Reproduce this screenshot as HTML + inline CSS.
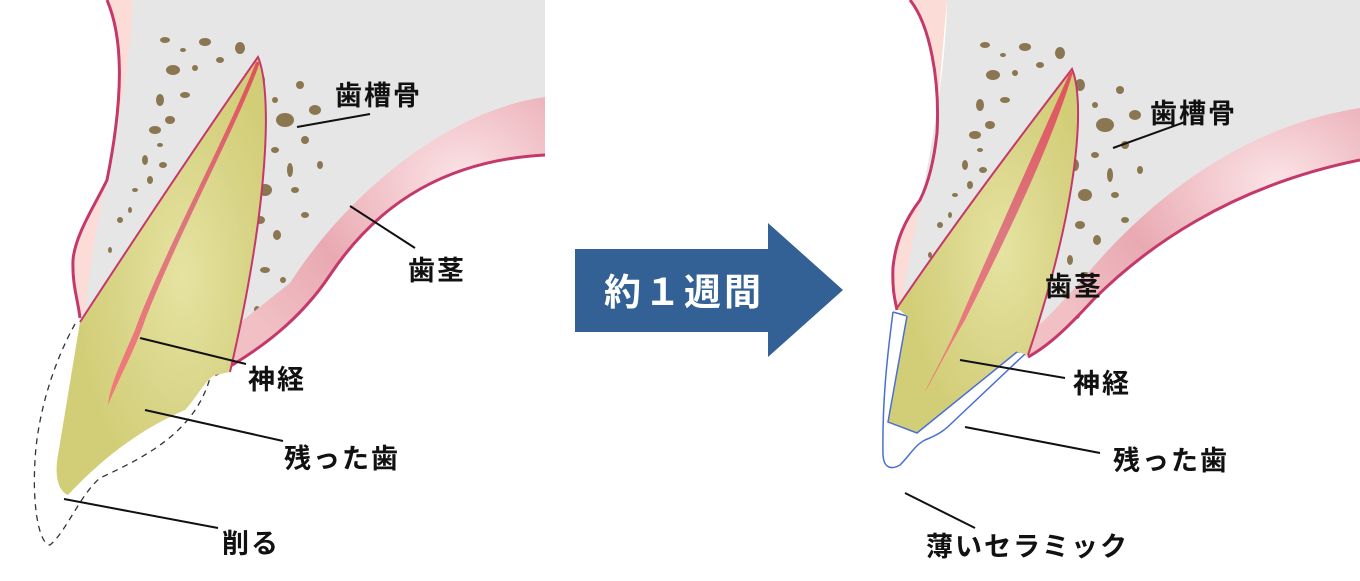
<!DOCTYPE html>
<html><head><meta charset="utf-8"><style>
html,body{margin:0;padding:0;background:#fff;}
svg{display:block;}
text{font-family:"Liberation Sans","Noto Sans CJK JP",sans-serif;font-weight:bold;fill:#111;font-size:27px;letter-spacing:2px;}
</style></head><body>
<svg width="1360" height="581" viewBox="0 0 1360 581" xmlns="http://www.w3.org/2000/svg">
<defs>
<radialGradient id="gum" cx="0.75" cy="0.3" r="0.8">
<stop offset="0" stop-color="#fbe4e6"/><stop offset="0.6" stop-color="#e9a9b2"/><stop offset="1" stop-color="#f0c0c4"/>
</radialGradient>
<radialGradient id="tooth" cx="0.6" cy="0.5" r="0.5">
<stop offset="0" stop-color="#e6e3a2"/><stop offset="0.6" stop-color="#d9d588"/><stop offset="1" stop-color="#d2ce78"/>
</radialGradient>
<linearGradient id="nerve" x1="0" y1="0" x2="0" y2="1">
<stop offset="0" stop-color="#e0505a"/><stop offset="0.5" stop-color="#dc7880"/><stop offset="1" stop-color="#f47878"/>
</linearGradient>
<g id="spots" fill="#8a7650">
<ellipse cx="0" cy="0" rx="5" ry="3"/><ellipse cx="18" cy="10" rx="3" ry="2"/><ellipse cx="40" cy="2" rx="6" ry="4"/>
<ellipse cx="8" cy="30" rx="7" ry="5"/><ellipse cx="30" cy="28" rx="3" ry="3"/><ellipse cx="55" cy="20" rx="4" ry="3"/>
<ellipse cx="-5" cy="60" rx="4" ry="6"/><ellipse cx="20" cy="55" rx="5" ry="3"/><ellipse cx="-10" cy="90" rx="6" ry="4"/>
<ellipse cx="5" cy="80" rx="5" ry="4"/><ellipse cx="-2" cy="125" rx="4" ry="3"/><ellipse cx="-15" cy="140" rx="3" ry="4"/>
<ellipse cx="-20" cy="120" rx="3" ry="5"/><ellipse cx="-30" cy="150" rx="3" ry="2"/><ellipse cx="-45" cy="180" rx="3" ry="3"/>
<ellipse cx="-55" cy="210" rx="2" ry="3"/><ellipse cx="-5" cy="105" rx="3" ry="2"/><ellipse cx="-35" cy="170" rx="2" ry="3"/>
<ellipse cx="75" cy="8" rx="5" ry="6"/><ellipse cx="95" cy="40" rx="5" ry="6"/><ellipse cx="120" cy="80" rx="9" ry="7"/>
<ellipse cx="140" cy="100" rx="4" ry="4"/><ellipse cx="110" cy="110" rx="4" ry="3"/><ellipse cx="125" cy="130" rx="3" ry="7"/>
<ellipse cx="100" cy="150" rx="7" ry="6"/><ellipse cx="130" cy="150" rx="4" ry="3"/><ellipse cx="95" cy="180" rx="5" ry="4"/>
<ellipse cx="112" cy="195" rx="4" ry="5"/><ellipse cx="85" cy="215" rx="3" ry="5"/><ellipse cx="100" cy="230" rx="5" ry="3"/>
<ellipse cx="80" cy="250" rx="3" ry="3"/><ellipse cx="150" cy="70" rx="6" ry="5"/><ellipse cx="155" cy="125" rx="3" ry="4"/>
<ellipse cx="135" cy="45" rx="4" ry="4"/><ellipse cx="110" cy="60" rx="3" ry="3"/><ellipse cx="90" cy="120" rx="4" ry="6"/>
<ellipse cx="140" cy="175" rx="4" ry="3"/><ellipse cx="92" cy="270" rx="3" ry="4"/><ellipse cx="118" cy="240" rx="3" ry="3"/>
</g>
</defs>

<!-- LEFT DIAGRAM -->
<path d="M107,0 C122,35 125,90 107,180 C95,205 75,235 73,260 C72,285 78,300 80,315 L120,320 L133,0 Z" fill="#fbdcd6"/>
<path d="M133,0 L545,0 L545,155 C450,160 380,200 330,275 C300,320 260,350 215,375 L86,310 C95,200 130,100 133,0 Z" fill="#e6e6e6"/>
<path d="M107,0 C122,35 125,90 107,180 C95,205 75,235 73,260 C72,285 78,300 80,318" fill="none" stroke="#c4386a" stroke-width="3"/>
<use href="#spots" transform="translate(165,40)"/>
<path d="M545,97 C450,110 350,190 290,283 L228,332 L215,375 C260,350 300,320 330,275 C380,200 450,160 545,155 Z" fill="url(#gum)"/>
<path d="M545,155 C450,160 380,200 330,275 C300,320 260,350 215,375" fill="none" stroke="#c4386a" stroke-width="3"/>
<!-- dashed cut -->
<path d="M75,324 C55,360 38,410 35,460 C32,510 40,545 50,545 C66,532 80,495 100,478 C150,455 195,430 210,378" fill="none" stroke="#333" stroke-width="1.3" stroke-dasharray="6,5"/>
<!-- tooth -->
<path d="M80,322 C140,230 200,140 258,57 C272,90 270,200 230,372 L215,375 C205,380 195,400 185,410 C150,425 110,450 68,495 C56,490 55,470 58,455 Z" fill="url(#tooth)"/>
<path d="M80,322 C140,230 200,140 258,57 C272,90 270,200 230,372" fill="none" stroke="#c4386a" stroke-width="2"/>
<path d="M256,62 C230,130 160,260 135,330 C120,365 110,385 108,405 C118,380 135,350 145,320 C180,230 240,120 260,62 Z" fill="url(#nerve)"/>

<line x1="297" y1="127" x2="370" y2="114" stroke="#111" stroke-width="2"/>
<line x1="350" y1="206" x2="415" y2="248" stroke="#111" stroke-width="2"/>
<line x1="140" y1="338" x2="246" y2="364" stroke="#111" stroke-width="2"/>
<line x1="145" y1="410" x2="283" y2="441" stroke="#111" stroke-width="2"/>
<line x1="64" y1="499" x2="218" y2="528" stroke="#111" stroke-width="2"/>
<text x="335" y="105">歯槽骨</text>
<text x="408" y="280">歯茎</text>
<text x="248" y="389">神経</text>
<text x="284" y="468">残った歯</text>
<text x="222" y="553">削る</text>

<!-- ARROW -->
<path d="M575,249 L768,249 L768,223 L843,290 L768,357 L768,332 L575,332 Z" fill="#336195"/>
<text x="604" y="305" style="fill:#fff;font-size:37px;letter-spacing:3px">約１週間</text>

<!-- RIGHT DIAGRAM -->
<path d="M910,0 C930,25 940,80 937,133 C933,170 925,190 920,200 C905,220 896,240 893,267 C892,290 895,300 897,310 L920,310 L947,0 Z" fill="#fbdcd6"/>
<path d="M947,0 L1360,0 L1360,160 C1227,187 1143,250 1093,300 C1070,325 1050,345 1028,357 L900,310 C920,200 945,100 947,0 Z" fill="#e6e6e6"/>
<path d="M910,0 C930,25 940,80 937,133 C933,170 925,190 920,200 C905,220 896,240 893,267 C892,290 895,300 897,310" fill="none" stroke="#c4386a" stroke-width="3"/>
<use href="#spots" transform="translate(985,45)"/>
<path d="M1360,108 C1250,125 1160,190 1093,267 C1065,300 1045,320 1037,327 L1028,357 C1050,345 1070,325 1093,300 C1143,250 1227,187 1360,160 Z" fill="url(#gum)"/>
<path d="M1360,160 C1227,187 1143,250 1093,300 C1070,325 1050,345 1028,357" fill="none" stroke="#c4386a" stroke-width="3"/>
<!-- ceramic -->
<path d="M893,312 L907,316 L888,422 L917,433 L1017,352 L1027,352 L955,420 C945,430 940,434 925,440 C915,445 910,455 900,465 C893,469 884,470 883,455 C882,400 888,350 893,312 Z" fill="#fff"/>
<path d="M893,312 C888,350 882,400 883,455 C884,470 893,469 900,465 C910,455 915,445 925,440 C940,434 945,430 955,420 L1027,352 L1017,352" fill="none" stroke="#4a6fd0" stroke-width="1.5"/>
<path d="M893,312 L907,316" fill="none" stroke="#4a6fd0" stroke-width="1.5"/>
<!-- tooth -->
<path d="M897,308 C950,230 1010,150 1072,69 C1085,100 1080,200 1028,355 L1017,352 L917,433 L888,422 L907,316 Z" fill="url(#tooth)"/>
<path d="M897,308 C950,230 1010,150 1072,69 C1085,100 1080,200 1028,355" fill="none" stroke="#c4386a" stroke-width="2"/>
<path d="M1017,352 L917,433 L888,422 L907,316" fill="none" stroke="#4a6fd0" stroke-width="1.5"/>
<path d="M1070,72 C1040,140 990,250 960,320 C945,355 930,380 925,392 C935,375 950,345 965,320 C1000,250 1050,150 1073,72 Z" fill="url(#nerve)"/>

<line x1="1113" y1="148" x2="1185" y2="122" stroke="#111" stroke-width="2"/>
<line x1="960" y1="360" x2="1065" y2="378" stroke="#111" stroke-width="2"/>
<line x1="965" y1="427" x2="1100" y2="453" stroke="#111" stroke-width="2"/>
<line x1="905" y1="493" x2="975" y2="528" stroke="#111" stroke-width="2"/>
<text x="1150" y="123">歯槽骨</text>
<text x="1045" y="296">歯茎</text>
<text x="1073" y="393">神経</text>
<text x="1113" y="470">残った歯</text>
<text x="926" y="556">薄いセラミック</text>
</svg>
</body></html>
